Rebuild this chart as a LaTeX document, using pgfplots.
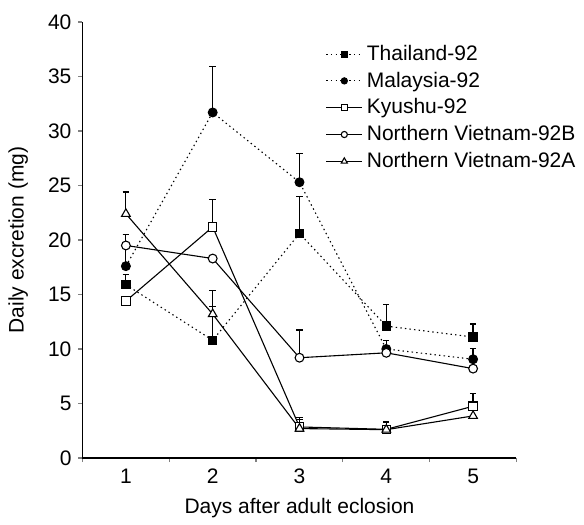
\documentclass[border=0pt]{standalone}
\usepackage{pgfplots}
\pgfplotsset{compat=1.18}
\usepackage{fontspec}
\setmainfont{Liberation Sans}
\begin{document}
\begin{tikzpicture}
\begin{axis}[
  scale only axis=true,
  width=217pt, height=218pt,
  xmin=0.5, xmax=5.5, ymin=0, ymax=40,
  axis lines*=left,
  axis line style={line width=0.6pt},
  xtick={1,2,3,4,5},
  major x tick style={draw=none},
  minor xtick={0.5,1.5,2.5,3.5,4.5,5.5},
  minor x tick style={line width=0.6pt},
  ytick={0,5,...,40},
  tick align=outside,
  major tick length=2pt,
  minor tick length=2pt,
  y tick style={line width=0.6pt},
  /pgf/number format/assume math mode=true,
  tick label style={font=\fontsize{10.5}{12}\selectfont},
  label style={font=\fontsize{10.5}{12}\selectfont},
  xlabel={Days after adult eclosion},
  ylabel={Daily excretion (mg)},
  xlabel style={at={(axis description cs:0.5,-0.115)}, anchor=center},
  ylabel style={at={(axis description cs:-0.148,0.5)}, anchor=center},
  legend style={draw=none, fill=none, at={(0.555,0.962)}, anchor=north west,
     font=\fontsize{10.5}{12}\selectfont, row sep=0.3pt, inner sep=1pt},
  legend cell align=left,
  legend image code/.code={
    \draw[mark repeat=2,mark phase=2,#1, every mark/.append style={scale=0.7}] plot coordinates {(0pt,0pt) (9pt,0pt) (18pt,0pt)};
  },
  every axis plot/.append style={line width=0.55pt, black},
  error bars/y dir=plus, error bars/y explicit,
  error bars/error bar style={line width=0.6pt, black, solid},
  error bars/error mark options={rotate=90, mark size=1.6pt, line width=0.6pt, solid},
]
\addplot[dash pattern=on 0.7pt off 1.6pt, mark=square*, mark options={solid, fill=black, mark size=2.1pt}]
  coordinates {(1,15.9) +- (0,0.9) (2,10.8) +- (0,3.1) (3,20.6) +- (0,3.4) (4,12.1) +- (0,2.0) (5,11.1) +- (0,1.2)};
\addlegendentry{Thailand-92}
\addplot[dash pattern=on 0.7pt off 1.6pt, mark=*, mark options={solid, fill=black, mark size=2.2pt}]
  coordinates {(1,17.6) +- (0,2.9) (2,31.7) +- (0,4.2) (3,25.3) +- (0,2.6) (4,10.0) +- (0,0.8) (5,9.06) +- (0,1.0)};
\addlegendentry{Malaysia-92}
\addplot[solid, mark=square*, mark options={solid, fill=white, mark size=2.1pt}]
  coordinates {(1,14.4) +- (0,0) (2,21.2) +- (0,2.5) (3,2.85) +- (0,0.85) (4,2.63) +- (0,0.7) (5,4.75) +- (0,1.15)};
\addlegendentry{Kyushu-92}
\addplot[solid, mark=*, mark options={solid, fill=white, mark size=2.2pt}]
  coordinates {(1,19.5) +- (0,1.0) (2,18.3) +- (0,0) (3,9.2) +- (0,2.55) (4,9.65) +- (0,0) (5,8.2) +- (0,0)};
\addlegendentry{Northern Vietnam-92B}
\addplot[solid, mark=triangle*, mark options={solid, fill=white, mark size=2.5pt}]
  coordinates {(1,22.4) +- (0,2.0) (2,13.2) +- (0,2.2) (3,2.7) +- (0,0.8) (4,2.6) +- (0,0.7) (5,3.86) +- (0,0)};
\addlegendentry{Northern Vietnam-92A}
\end{axis}
\path[use as bounding box] (-41.25pt,-31.15pt) rectangle (250.75pt,229pt);
\end{tikzpicture}
\end{document}
